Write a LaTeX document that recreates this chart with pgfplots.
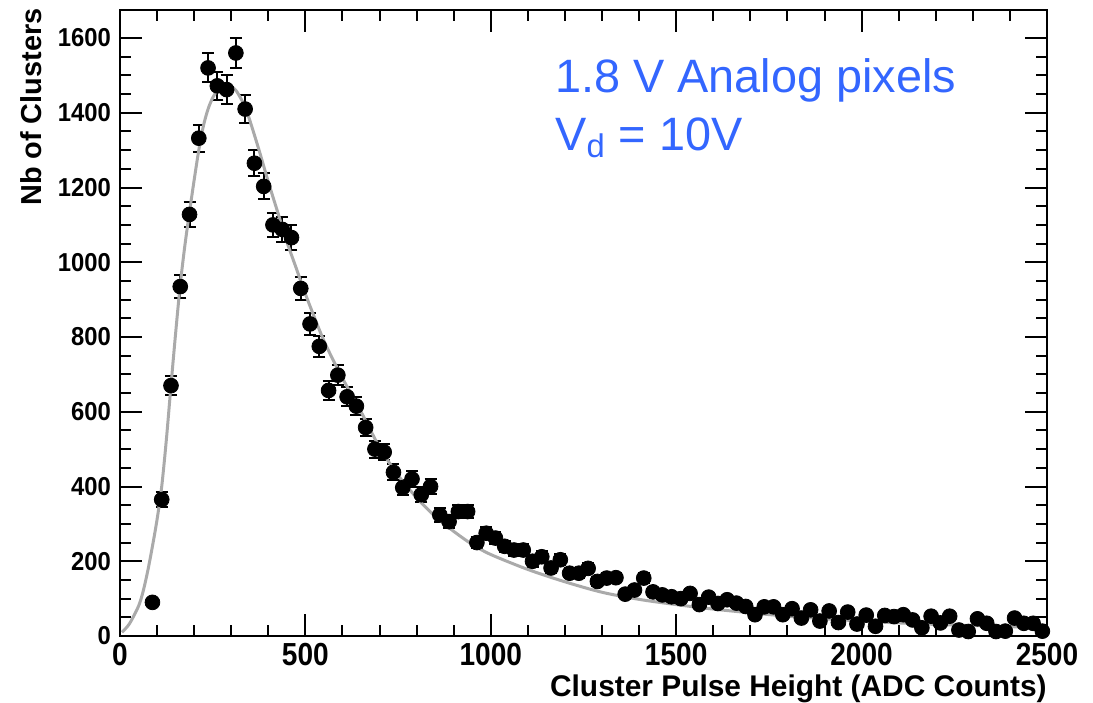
\documentclass[border=0pt]{standalone}
\usepackage{fontspec}
\setmainfont{Liberation Sans}
\newfontfamily\condfont[FakeStretch=0.88]{Liberation Sans}
\newfontfamily\ycondfont[FakeStretch=0.92]{Liberation Sans}
\usepackage{pgfplots}
\pgfplotsset{compat=1.18}
\usepackage{pgfplotstable}
\usetikzlibrary{calc}
\definecolor{labelblue}{RGB}{51,102,255}
\definecolor{fitgray}{RGB}{170,170,170}

\pgfplotstableread{
x y err
87.5 90 9.5
112.5 365 19
137.5 670 26
162.5 935 31
187.5 1128 34
212.5 1332 36.5
237.5 1520 39
262.5 1472 38
287.5 1462 38
312.5 1560 39.5
337.5 1410 37.5
362.5 1265 35.5
387.5 1203 34.7
412.5 1100 33
437.5 1088 33
462.5 1066 32.6
487.5 930 30.5
512.5 835 29
537.5 775 27.8
562.5 657 25.6
587.5 698 26.4
612.5 640 25.3
637.5 615 24.8
662.5 558 23.6
687.5 500 22.4
712.5 492 22.2
737.5 438 20.9
762.5 397 19.9
787.5 420 20.5
812.5 378 19.4
837.5 400 20
862.5 324 18
887.5 306 17.5
912.5 333 18.2
937.5 333 18.2
962.5 250 15.8
987.5 275 16.6
1012.5 262 16.2
1037.5 240 15.5
1062.5 230 15.2
1087.5 230 15.2
1112.5 200 14.1
1137.5 212 14.6
1162.5 182 13.5
1187.5 204 14.3
1212.5 168 13
1237.5 168 13
1262.5 181 13.5
1287.5 146 12.1
1312.5 155 12.4
1337.5 156 12.5
1362.5 112 10.6
1387.5 123 11.1
1412.5 155 12.4
1437.5 118 10.9
1462.5 110 10.5
1487.5 105 10.2
1512.5 100 10
1537.5 114 10.7
1562.5 84 9.2
1587.5 104 10.2
1612.5 87 9.3
1637.5 97 9.8
1662.5 88 9.4
1687.5 79 8.9
1712.5 57 7.5
1737.5 78 8.8
1762.5 78 8.8
1787.5 57 7.5
1812.5 73 8.5
1837.5 48 6.9
1862.5 70 8.4
1887.5 40 6.3
1912.5 67 8.2
1937.5 36 6
1962.5 64 8
1987.5 32 5.7
2012.5 56 7.5
2037.5 26 5.1
2062.5 55 7.4
2087.5 52 7.2
2112.5 57 7.5
2137.5 43 6.6
2162.5 22 4.7
2187.5 53 7.3
2212.5 35 5.9
2237.5 53 7.3
2262.5 16 4
2287.5 12 3.5
2312.5 46 6.8
2337.5 34 5.8
2362.5 12 3.5
2387.5 13 3.6
2412.5 48 6.9
2437.5 34 5.8
2462.5 34 5.8
2487.5 13 3.6
}\datatable

\pgfplotstableread{
x y
5 10
25 32
50 80
62.5 120
75 175
87.5 240
100 312
112.5 400
125 525
137.5 670
150 810
162.5 940
175 1045
187.5 1135
200 1220
212.5 1300
225 1365
237.5 1410
250 1440
262.5 1460
275 1470
287.5 1474
300 1470
312.5 1460
325 1440
337.5 1415
350 1380
375 1300
400 1215
425 1135
450 1055
475 985
500 915
550 790
600 690
650 600
700 505
750 430
800 370
850 320
900 280
950 245
1000 218
1100 178
1200 145
1300 117
1400 98
1500 84
1600 72
1700 62
1800 53
1900 46
2000 40
2100 35
2200 31
2300 28
2400 25
2500 23
}\fittable

\begin{document}
\begin{tikzpicture}
\begin{axis}[
  scale only axis,
  width=463.5bp, height=313bp,
  xmin=0, xmax=2500, ymin=0, ymax=1675,
  xtick={0,500,...,2500}, ytick={0,200,...,1600},
  minor x tick num=4, minor y tick num=3,
  tick align=inside,
  major tick length=11bp, minor tick length=5.5bp,
  axis line style={line width=1.2bp},
  every tick/.style={black, line width=1bp},
  scaled ticks=false,
  /pgf/number format/assume math mode=true,
  /pgf/number format/set thousands separator={},
  xticklabel style={font=\condfont\bfseries\fontsize{16}{16}\selectfont, yshift=0bp},
  yticklabel style={font=\ycondfont\bfseries\fontsize{13}{13}\selectfont, xshift=-1bp},
  xlabel={Cluster Pulse Height (ADC Counts)},
  xlabel style={at={(rel axis cs:1,0)}, anchor=north east, yshift=-19bp, inner sep=0pt,
    font=\bfseries\fontsize{15}{15}\selectfont},
  ylabel={Nb of Clusters},
  ylabel style={at={(rel axis cs:0,1)}, anchor=south east, yshift=39bp, xshift=1bp, inner sep=0pt,
    font=\bfseries\fontsize{14.5}{14.5}\selectfont},
  clip=false,
]
\addplot[black, only marks, mark=*, mark size=3.7bp,
  error bars/.cd, y dir=both, y explicit,
  error bar style={line width=1bp, black},
  error mark options={rotate=90, mark size=3bp, line width=1bp, black}]
  table[x=x, y=y, y error=err] {\datatable};
\addplot[fitgray, line width=1.5bp, smooth, no marks] table[x=x, y=y] {\fittable};
\node[anchor=base west, text=labelblue, font=\fontsize{23.5}{23.5}\selectfont, inner sep=0pt]
  at (axis cs:1173,1453) {1.8 V Analog pixels};
\node[anchor=base west, text=labelblue, font=\fontsize{23.5}{23.5}\selectfont, inner sep=0pt]
  at (axis cs:1173,1300) {V\textsubscript{d} = 10V};
\end{axis}
\pgfresetboundingbox
\path ($(current axis.south west)+(-60bp,-33.5bp)$) rectangle ($(current axis.north east)+(23bp,5bp)$);
\end{tikzpicture}
\end{document}
